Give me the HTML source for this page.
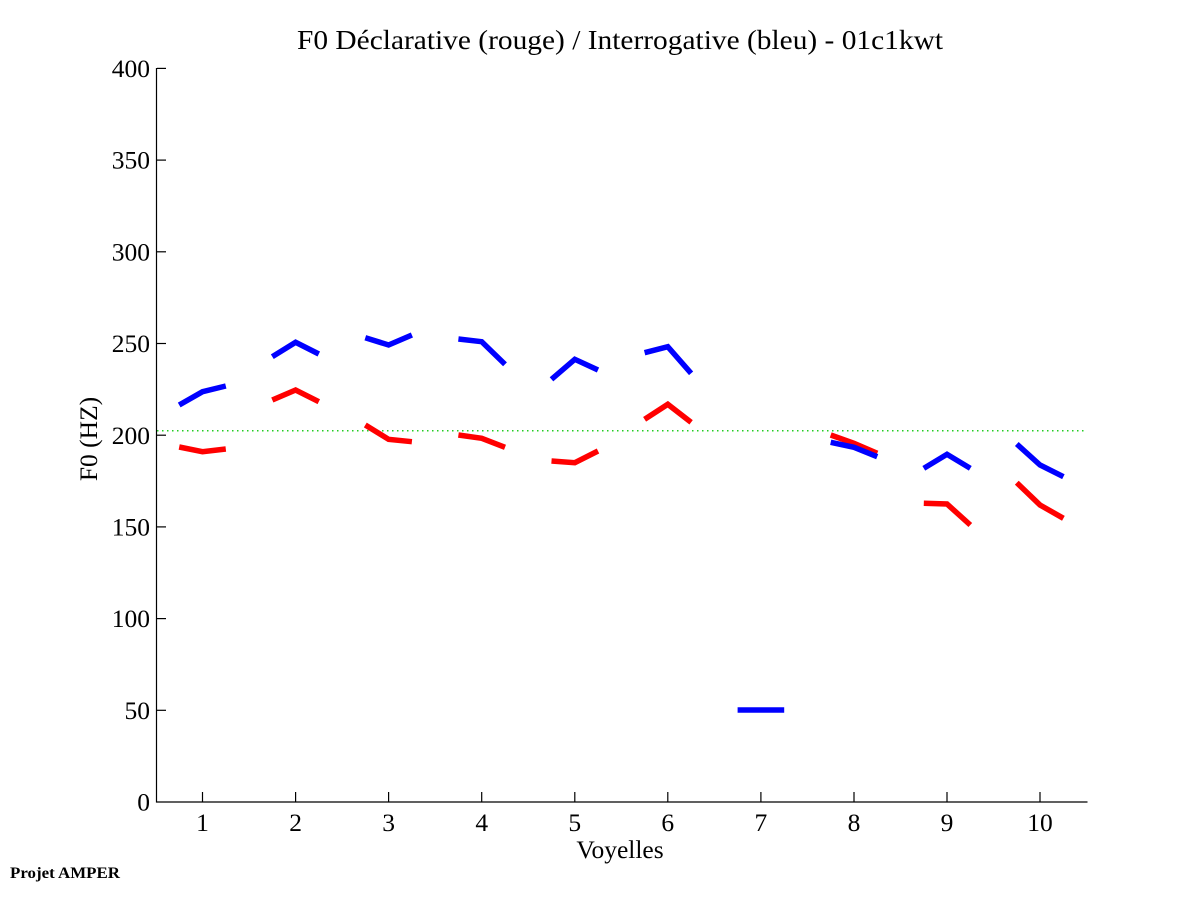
<!DOCTYPE html>
<html>
<head>
<meta charset="utf-8">
<style>
  html,body{margin:0;padding:0;background:#fff;}
  svg{display:block;}
  text{font-family:"Liberation Serif","Times New Roman",serif;fill:#000;}
</style>
</head>
<body>
<svg width="1201" height="901" viewBox="0 0 1201 901" xmlns="http://www.w3.org/2000/svg">
  <rect x="0" y="0" width="1201" height="901" fill="#fff"/>

  <!-- title -->
  <text x="620" y="49" font-size="27" text-anchor="middle" textLength="646" lengthAdjust="spacingAndGlyphs">F0 Déclarative (rouge) / Interrogative (bleu) - 01c1kwt</text>

  <!-- green dotted reference line -->
  <line x1="157" y1="430.7" x2="1087" y2="430.7" stroke="#22cc22" stroke-width="1.5" stroke-dasharray="1.5 3.5"/>

  <!-- axes -->
  <line x1="156.5" y1="68" x2="156.5" y2="802.5" stroke="#000" stroke-width="1.2"/>
  <line x1="156" y1="802" x2="1087.5" y2="802" stroke="#000" stroke-width="1.2"/>

  <!-- y ticks -->
  <g stroke="#000" stroke-width="1.2">
    <line x1="157" y1="68.4" x2="166" y2="68.4"/>
    <line x1="157" y1="160.1" x2="166" y2="160.1"/>
    <line x1="157" y1="251.8" x2="166" y2="251.8"/>
    <line x1="157" y1="343.5" x2="166" y2="343.5"/>
    <line x1="157" y1="435.2" x2="166" y2="435.2"/>
    <line x1="157" y1="526.9" x2="166" y2="526.9"/>
    <line x1="157" y1="618.6" x2="166" y2="618.6"/>
    <line x1="157" y1="710.3" x2="166" y2="710.3"/>
  </g>
  <g font-size="25.5" text-anchor="end">
    <text x="150" y="77">400</text>
    <text x="150" y="168.7">350</text>
    <text x="150" y="260.4">300</text>
    <text x="150" y="352.1">250</text>
    <text x="150" y="443.8">200</text>
    <text x="150" y="535.5">150</text>
    <text x="150" y="627.2">100</text>
    <text x="150" y="718.9">50</text>
    <text x="150" y="810.6">0</text>
  </g>

  <!-- x ticks -->
  <g stroke="#000" stroke-width="1.2">
    <line x1="202.5" y1="802" x2="202.5" y2="792"/>
    <line x1="295.6" y1="802" x2="295.6" y2="792"/>
    <line x1="388.6" y1="802" x2="388.6" y2="792"/>
    <line x1="481.7" y1="802" x2="481.7" y2="792"/>
    <line x1="574.8" y1="802" x2="574.8" y2="792"/>
    <line x1="667.8" y1="802" x2="667.8" y2="792"/>
    <line x1="760.9" y1="802" x2="760.9" y2="792"/>
    <line x1="854" y1="802" x2="854" y2="792"/>
    <line x1="947" y1="802" x2="947" y2="792"/>
    <line x1="1040" y1="802" x2="1040" y2="792"/>
  </g>
  <g font-size="25.5" text-anchor="middle">
    <text x="202.5" y="831">1</text>
    <text x="295.6" y="831">2</text>
    <text x="388.6" y="831">3</text>
    <text x="481.7" y="831">4</text>
    <text x="574.8" y="831">5</text>
    <text x="667.8" y="831">6</text>
    <text x="760.9" y="831">7</text>
    <text x="854" y="831">8</text>
    <text x="947" y="831">9</text>
    <text x="1040" y="831">10</text>
  </g>

  <!-- axis labels -->
  <text x="620" y="858" font-size="25.5" text-anchor="middle">Voyelles</text>
  <text transform="translate(97,439) rotate(-90)" font-size="25.5" text-anchor="middle">F0 (HZ)</text>

  <!-- footer -->
  <text x="10" y="878" font-size="16" font-weight="600" textLength="110" lengthAdjust="spacingAndGlyphs">Projet AMPER</text>

  <!-- red series (declarative) -->
  <g fill="none" stroke="#ff0000" stroke-width="5.5" stroke-linejoin="miter" stroke-linecap="butt">
    <polyline points="179.2,447 202.5,451.7 225.8,449"/>
    <polyline points="272.3,400 295.6,390 318.8,401.7"/>
    <polyline points="365.3,425 388.6,439.3 411.9,441.7"/>
    <polyline points="458.4,435 481.7,438.3 505,447.3"/>
    <polyline points="551.5,461 574.8,462.7 598,451"/>
    <polyline points="644.6,419.3 667.8,404.3 691.1,422.3"/>
    <polyline points="830.7,435 854,443.3 877.2,453.3"/>
    <polyline points="923.8,503.3 947,504 970.3,525"/>
    <polyline points="1016.8,482.7 1040,505 1063.4,518.3"/>
  </g>

  <!-- blue series (interrogative) -->
  <g fill="none" stroke="#0000ff" stroke-width="5.5" stroke-linejoin="miter" stroke-linecap="butt">
    <polyline points="179.2,405 202.5,391.7 225.8,386"/>
    <polyline points="272.3,356.7 295.6,342.3 318.8,354"/>
    <polyline points="365.3,337.7 388.6,345 411.9,335"/>
    <polyline points="458.4,339 481.7,341.7 505,364.3"/>
    <polyline points="551.5,379.3 574.8,359.3 598,370"/>
    <polyline points="644.6,352.7 667.8,346.7 691.1,373.3"/>
    <polyline points="737.6,710 760.9,710 784.2,710"/>
    <polyline points="830.7,442.3 854,447.3 877.2,456.7"/>
    <polyline points="923.8,468.3 947,454.3 970.3,468.3"/>
    <polyline points="1016.8,444 1040,465 1063.4,476.7"/>
  </g>
</svg>
</body>
</html>
